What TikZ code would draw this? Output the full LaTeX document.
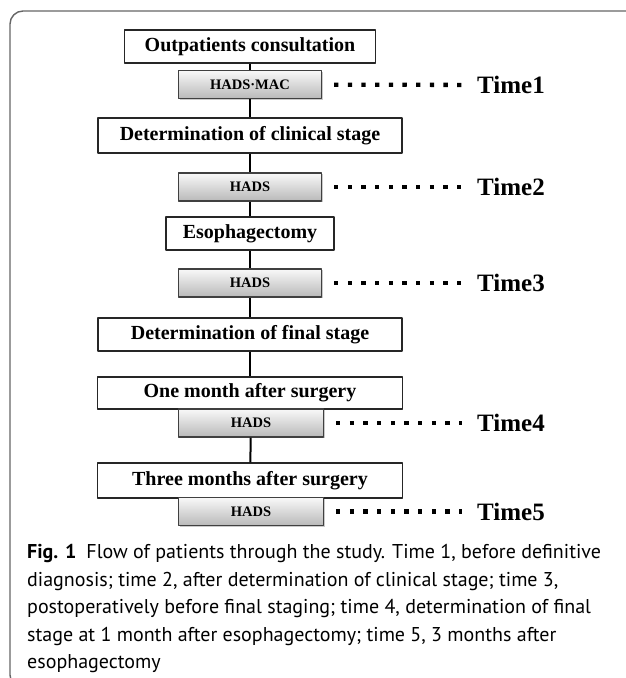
\documentclass[tikz,border=0pt]{standalone}
\usepackage{fontspec}
\setmainfont{Liberation Serif}
\newfontfamily\capfont{PT Sans}
\usetikzlibrary{shadows}
\begin{document}
\begin{tikzpicture}[x=1pt,y=-1pt,line join=round,
    stage/.style={draw=black!85,line width=1.2pt,fill=white,inner sep=0pt,minimum height=33pt,
      font=\fontsize{20}{21}\selectfont\bfseries},
    hads/.style={draw=black!75,line width=1.2pt,top color=gray!5,bottom color=gray!55,inner sep=0pt,
      minimum width=143pt,minimum height=28pt,font=\fontsize{14.5}{15}\selectfont\bfseries,
      drop shadow={shadow xshift=1.2pt,shadow yshift=-1.2pt,fill=black!35,opacity=.6}},
    timelabel/.style={anchor=west,inner sep=0pt,font=\fontsize{25}{26}\selectfont\bfseries},
    dotrow/.style={line width=4.3pt,dash pattern=on 4.3pt off 9.37pt,shorten <=12pt,shorten >=15pt},
    link/.style={line width=2pt}]
    \useasboundingbox (0,0) rectangle (625,678);
    \draw[black!60,line width=1.4pt,rounded corners=13pt] (630,11)--(10,11)--(10,688)--(60,688);
    % flow
    \node[stage,minimum width=251pt] (op) at (250,46.5) {Outpatients consultation};
    \node[hads] (h1) at (250,84.5) {HADS·MAC};
    \node[stage,minimum width=304pt,minimum height=35pt] (cs) at (250,135.5) {Determination of clinical stage};
    \node[hads] (h2) at (250,187) {HADS};
    \node[stage,minimum width=168pt] (es) at (250,233.5) {Esophagectomy};
    \node[hads] (h3) at (250,283) {HADS};
    \node[stage,minimum width=304pt] (fs) at (250,334.5) {Determination of final stage};
    \node[stage,minimum width=305pt,minimum height=32pt] (om) at (250,393) {One month after surgery};
    \node[hads,minimum width=145pt] (h4) at (251,423) {HADS};
    \node[stage,minimum width=305pt,minimum height=35pt] (tm) at (250,480.5) {Three months after surgery};
    \node[hads,minimum width=145pt] (h5) at (251,511.5) {HADS};
    \foreach \a/\b in {op/h1,h1/cs,cs/h2,h2/es,es/h3,h3/fs,fs/om,h4/tm}
      \draw[link] (\a) -- (\b);
    % time points
    \node[timelabel] (t1) at (477,85) {Time1};
    \node[timelabel] (t2) at (477,187) {Time2};
    \node[timelabel] (t3) at (477,283) {Time3};
    \node[timelabel] (t4) at (477,423) {Time4};
    \node[timelabel] (t5) at (477,511.5) {Time5};
    \foreach \i in {1,...,5}
      \draw[dotrow] (h\i) -- (t\i);
    \node[anchor=north west,inner sep=0pt,align=left,font=\capfont\fontsize{20}{27.5}\selectfont] (cap) at (27,544.5)
      {\textbf{Fig. 1}\enspace Flow of patients through the study. Time 1, before definitive\\
       diagnosis; time 2, after determination of clinical stage; time 3,\\
       postoperatively before final staging; time 4, determination of final\\
       stage at 1 month after esophagectomy; time 5, 3 months after\\
       esophagectomy};
\end{tikzpicture}
\end{document}
